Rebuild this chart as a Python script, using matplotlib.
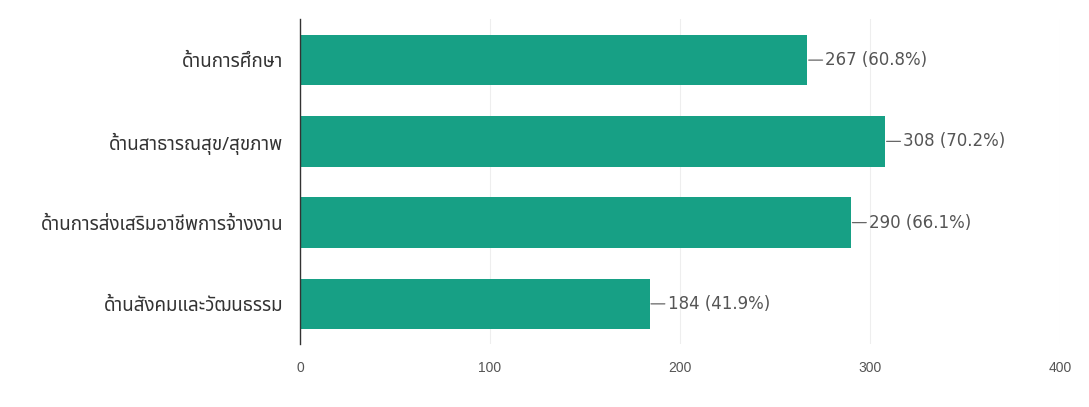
import matplotlib
matplotlib.use("Agg")
import matplotlib.pyplot as plt

categories = ["ด้านการศึกษา", "ด้านสาธารณสุข/สุขภาพ", "ด้านการส่งเสริมอาชีพการจ้างงาน", "ด้านสังคมและวัฒนธรรม"]
counts = [267, 308, 290, 184]
percents = [60.8, 70.2, 66.1, 41.9]
xticks = [0, 100, 200, 300, 400]

plt.rcParams['font.family'] = ['Liberation Sans', 'Noto Sans Thai', 'DejaVu Sans']

fig = plt.figure(figsize=(10.89, 4.07), dpi=100)
ax = fig.add_axes([0.2755, 0.1536, 0.6979, 0.7985])

ypos = list(range(len(categories)))
ax.barh(ypos, counts, height=0.62, color="#17a085", zorder=2)
for y, c, p in zip(ypos, counts, percents):
    ax.annotate(f"{c} ({p}%)", xy=(c, y), xytext=(18, 0), textcoords="offset pixels",
                ha="left", va="center", fontsize=12, color="#555555",
                family=['DejaVu Sans'],
                arrowprops=dict(arrowstyle="-", color="#666666", lw=0.9, shrinkA=0, shrinkB=1))

ax.set_xlim(0, 400)
ax.set_ylim(3.5, -0.5)
ax.set_yticks(ypos)
ax.set_yticklabels(categories, fontsize=13.5, color="#333333", family=['Noto Sans Thai', 'DejaVu Sans'])
ax.set_xticks(xticks)
ax.set_xticklabels([str(t) for t in xticks], fontsize=10, color="#555555")
ax.tick_params(axis="y", length=0, pad=12)
ax.tick_params(axis="x", length=0, pad=12)
ax.grid(axis="x", color="#eeeeee", lw=0.8, zorder=0)
for s in ["top", "right", "bottom"]:
    ax.spines[s].set_visible(False)
ax.spines["left"].set_color("#333333")
ax.spines["left"].set_linewidth(1.0)

fig.savefig("out.png", dpi=100, facecolor="white")
